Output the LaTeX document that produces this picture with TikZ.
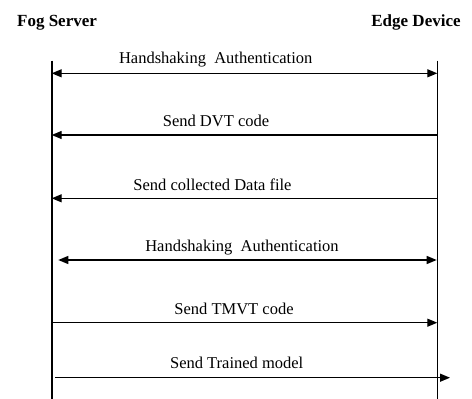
\documentclass[tikz,border=0pt]{standalone}
\usepackage{fontspec}
\setmainfont{Liberation Serif}
\usetikzlibrary{arrows.meta}
\begin{document}
\begin{tikzpicture}[x=1pt,y=-1pt,
  lifeline/.style={line width=1.6pt},
  msg/.style={line width=1.3pt},
  tipR/.style={-{Triangle[length=10pt,width=8pt]}},
  tipB/.style={{Triangle[length=10pt,width=8pt]}-{Triangle[length=10pt,width=8pt]}},
  lbl/.style={anchor=base,inner sep=0pt,font=\fontsize{16.5}{19}\selectfont},
  ttl/.style={anchor=base,inner sep=0pt,font=\fontsize{17}{19}\selectfont\bfseries}]
\useasboundingbox (0,0) rectangle (472,399);
% titles
\node[ttl] (fog) at (57,26.7) {Fog Server};
\node[ttl] (edge) at (416,26.7) {Edge Device};
% lifelines
\coordinate (Ltop) at (51.7,60.5);
\coordinate (Lbot) at (51.7,399);
\coordinate (Rtop) at (437.3,60.5);
\coordinate (Rbot) at (437.3,399);
\draw[lifeline] (Ltop) -- (Lbot);
\draw[lifeline] (Rtop) -- (Rbot);
% message end points
\coordinate (L1) at (51.7,73.3);  \coordinate (R1) at (437.3,73.3);
\coordinate (L2) at (51.7,135);   \coordinate (R2) at (437.3,135);
\coordinate (L3) at (51.7,198.3); \coordinate (R3) at (437.3,198.3);
\coordinate (L4) at (58.3,260);   \coordinate (R4) at (436.7,260);
\coordinate (L5) at (51.7,322.7); \coordinate (R5) at (437.3,322.7);
\coordinate (L6) at (55.3,377.7); \coordinate (R6) at (450,377.7);
% messages
\draw[msg,tipB] (L1) -- (R1);
\draw[msg,tipR] (R2) -- (L2);
\draw[msg,tipR] (R3) -- (L3);
\draw[msg,tipB] (L4) -- (R4);
\draw[msg,tipR] (L5) -- (R5);
\draw[msg,tipR] (L6) -- (R6);
% labels
\node[lbl] (m1) at (215.7,63.3) {Handshaking\ \ Authentication};
\node[lbl] (m2) at (216,126) {Send DVT code};
\node[lbl] (m3) at (212.5,190) {Send collected Data file};
\node[lbl] (m4) at (242,251.7) {Handshaking\ \ Authentication};
\node[lbl] (m5) at (234,314) {Send TMVT code};
\node[lbl] (m6) at (236.7,368.3) {Send Trained model};
\end{tikzpicture}
\end{document}
